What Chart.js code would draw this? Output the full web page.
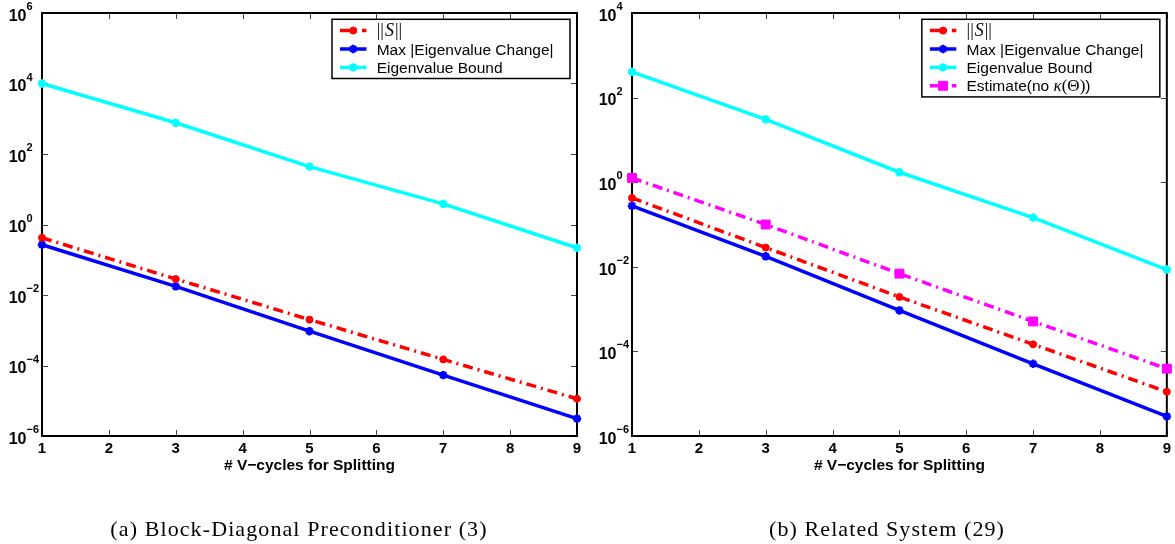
<!DOCTYPE html>
<html><head><meta charset="utf-8">
<script src="https://cdn.jsdelivr.net/npm/chart.js@4/dist/chart.umd.min.js"></script>
<style>
html,body{margin:0;padding:0;background:#fff;width:1175px;height:544px;overflow:hidden;}
#wrap{position:relative;width:1175px;height:544px;}
canvas{position:absolute;top:0;}
.cap{position:absolute;font-family:'Liberation Serif',serif;font-size:22px;line-height:24px;letter-spacing:1.1px;white-space:nowrap;color:#000;transform:translateX(-50%);top:517px;}
</style></head>
<body><div id="wrap">
<canvas id="cA" width="590" height="544" style="left:0"></canvas>
<canvas id="cB" width="585" height="544" style="left:590px"></canvas>
<div class="cap" style="left:299px">(a) Block-Diagonal Preconditioner (3)</div>
<div class="cap" style="left:887px">(b) Related System (29)</div>
</div>
<script>
// ---- data ----
const vCycles = [1, 3, 5, 7, 9];
const xTicks = [1, 2, 3, 4, 5, 6, 7, 8, 9];
const yTickExpA = [-6, -4, -2, 0, 2, 4, 6];
const yTickExpB = [-6, -4, -2, 0, 2, 4];
const xTitle = '# V\u2212cycles for Splitting';

// (a) Block-Diagonal Preconditioner
const normS_A   = [0.42, 0.0284, 2.0e-3, 1.49e-4, 1.14e-5];
const maxEig_A  = [0.267, 0.0176, 9.4e-4, 5.35e-5, 3.1e-6];
const bound_A   = [1.0e4, 768, 43.7, 3.85, 0.219];
// (b) Related System
const normS_B   = [0.425, 0.0285, 1.94e-3, 1.47e-4, 1.11e-5];
const maxEig_B  = [0.275, 0.0177, 9.3e-4, 5.1e-5, 2.9e-6];
const bound_B   = [407, 30.5, 1.72, 0.146, 8.6e-3];
const estim_B   = [1.26, 0.10, 6.9e-3, 5.1e-4, 3.9e-5];

// ---- styles ----
const SANS = '"Liberation Sans", Arial, Helvetica, sans-serif';
const SERIF = '"Liberation Serif", "Times New Roman", serif';
const DASHDOT = [10, 5, 2, 5];
const STY = {
  S:     {color:'#ff0000', dash:DASHDOT, point:'circle', r:3.5, pw:1},
  Max:   {color:'#0000ff', dash:[], point:'star', r:4.2, pw:2.5},
  Bound: {color:'#00ffff', dash:[], point:'star', r:4.2, pw:2.5},
  Est:   {color:'#ff00ff', dash:DASHDOT, point:'rect', r:6.3, pw:1}
};
const LEG = {
  S:     [{t:'||', f:'18px '+SERIF}, {t:'S', f:'italic 18px '+SERIF}, {t:'||', f:'18px '+SERIF}],
  Max:   [{t:'Max |Eigenvalue Change|', f:'15.5px '+SANS}],
  Bound: [{t:'Eigenvalue Bound', f:'15.5px '+SANS}],
  Est:   [{t:'Estimate(no ', f:'15.5px '+SANS}, {t:'\u03ba', f:'italic 17px '+SERIF}, {t:'(\u0398)', f:'17px '+SERIF}, {t:')', f:'15.5px '+SANS}]
};

function ds(key, arr){
  const s = STY[key];
  return {
    label: key,
    data: vCycles.map((x, i) => ({x: x, y: arr[i]})),
    borderColor: s.color, backgroundColor: s.color,
    pointBackgroundColor: s.color, pointBorderColor: s.color,
    borderWidth: 3.5, borderDash: s.dash, borderCapStyle: 'butt',
    pointStyle: s.point, pointRadius: s.r, pointBorderWidth: s.pw,
    pointHoverRadius: s.r, tension: 0, fill: false, clip: false
  };
}

function drawMarker(ctx, s, x, y){
  ctx.save();
  ctx.setLineDash([]);
  ctx.fillStyle = s.color; ctx.strokeStyle = s.color; ctx.lineWidth = s.pw;
  ctx.beginPath();
  if (s.point === 'circle') {
    ctx.arc(x, y, s.r, 0, Math.PI*2); ctx.fill(); ctx.stroke();
  } else if (s.point === 'rect') {
    const h = s.r * Math.SQRT1_2; ctx.rect(x-h, y-h, 2*h, 2*h); ctx.fill(); ctx.stroke();
  } else {
    for (let k = 0; k < 4; k++) {
      const a = k * Math.PI/4;
      ctx.moveTo(x - Math.cos(a)*s.r, y - Math.sin(a)*s.r);
      ctx.lineTo(x + Math.cos(a)*s.r, y + Math.sin(a)*s.r);
    }
    ctx.stroke();
  }
  ctx.restore();
}

function framePlugin(cfg){
  return {
    id: 'frame',
    beforeDatasetsDraw(chart){
      const ctx = chart.ctx, a = chart.chartArea, x = chart.scales.x, y = chart.scales.y;
      ctx.save();
      ctx.strokeStyle = '#444'; ctx.lineWidth = 1;
      xTicks.forEach(v => {
        const px = Math.round(x.getPixelForValue(v)) + 0.5;
        ctx.beginPath();
        ctx.moveTo(px, a.bottom); ctx.lineTo(px, a.bottom - 6);
        ctx.moveTo(px, a.top); ctx.lineTo(px, a.top + 6);
        ctx.stroke();
      });
      cfg.yExp.forEach(e => {
        const py = Math.round(y.getPixelForValue(Math.pow(10, e))) + 0.5;
        ctx.beginPath();
        ctx.moveTo(a.left, py); ctx.lineTo(a.left + 6, py);
        ctx.moveTo(a.right, py); ctx.lineTo(a.right - 6, py);
        ctx.stroke();
      });
      ctx.strokeStyle = '#000'; ctx.lineWidth = 2;
      ctx.strokeRect(a.left, a.top, a.right - a.left, a.bottom - a.top);
      ctx.restore();
    },
    afterDraw(chart){
      const ctx = chart.ctx, a = chart.chartArea, y = chart.scales.y;
      ctx.save();
      ctx.fillStyle = '#000';
      // y tick labels 10^k
      cfg.yExp.forEach(e => {
        const py = y.getPixelForValue(Math.pow(10, e));
        const xr = a.left - 15.5;
        ctx.font = 'bold 16px ' + SANS;
        ctx.textAlign = 'right'; ctx.textBaseline = 'alphabetic';
        ctx.fillText('10', xr, py + 7.7);
        ctx.font = 'bold 11px ' + SANS;
        ctx.textAlign = 'left';
        ctx.fillText(e < 0 ? '\u2212' + (-e) : String(e), xr, py - 3);
      });
      // x axis title
      ctx.font = 'bold 15.5px ' + SANS;
      ctx.textAlign = 'center'; ctx.textBaseline = 'alphabetic';
      ctx.fillText(xTitle, (a.left + a.right)/2, 470);
      // legend
      const n = cfg.legend.length;
      const w = 238, h = n * 18.4 + 4;
      const bx = a.right - 7 - w, by = a.top + 6.3;
      ctx.fillStyle = '#fff';
      ctx.fillRect(bx, by, w, h);
      ctx.strokeStyle = '#000'; ctx.lineWidth = 1.5;
      ctx.strokeRect(bx, by, w, h);
      cfg.legend.forEach((key, i) => {
        const s = STY[key];
        const cy = by + 11.3 + i * 18.4;
        ctx.save();
        ctx.strokeStyle = s.color; ctx.lineWidth = 3.5; ctx.lineCap = 'butt';
        ctx.setLineDash(s.dash);
        ctx.beginPath(); ctx.moveTo(bx + 8, cy); ctx.lineTo(bx + 34.5, cy); ctx.stroke();
        ctx.restore();
        drawMarker(ctx, s, bx + 21.2, cy);
        let tx = bx + 44.7;
        ctx.fillStyle = '#000'; ctx.textAlign = 'left'; ctx.textBaseline = 'alphabetic';
        LEG[key].forEach(p => {
          ctx.font = p.f;
          ctx.fillText(p.t, tx, cy + 5.5);
          tx += ctx.measureText(p.t).width + (key === 'S' ? 1 : 0);
        });
      });
      ctx.restore();
    }
  };
}

function makeChart(id, datasets, yExp, legend, padRight){
  new Chart(document.getElementById(id), {
    type: 'line',
    data: {datasets: datasets},
    options: {
      responsive: false, animation: false, devicePixelRatio: 1, events: [],
      layout: {padding: {left: 0, top: 13, right: padRight, bottom: 0}},
      plugins: {legend: {display: false}, tooltip: {enabled: false}, title: {display: false}},
      scales: {
        x: {
          type: 'linear', min: 1, max: 9,
          grid: {display: false, drawTicks: false}, border: {display: false},
          ticks: {stepSize: 1, padding: 4, color: '#000', font: {family: SANS, size: 15, weight: 'bold'}},
          afterBuildTicks: s => { s.ticks = xTicks.map(v => ({value: v})); },
          afterFit: s => { s.height = 108; }
        },
        y: {
          type: 'logarithmic',
          min: Math.pow(10, yExp[0]), max: Math.pow(10, yExp[yExp.length - 1]),
          grid: {display: false, drawTicks: false}, border: {display: false},
          ticks: {display: false},
          afterBuildTicks: s => { s.ticks = yExp.map(e => ({value: Math.pow(10, e), major: true})); },
          afterFit: s => { s.width = 42; }
        }
      }
    },
    plugins: [framePlugin({yExp: yExp, legend: legend})]
  });
}

makeChart('cA', [ds('S', normS_A), ds('Max', maxEig_A), ds('Bound', bound_A)], yTickExpA, ['S', 'Max', 'Bound'], 13);
makeChart('cB', [ds('S', normS_B), ds('Max', maxEig_B), ds('Bound', bound_B), ds('Est', estim_B)], yTickExpB, ['S', 'Max', 'Bound', 'Est'], 8);
</script>
</body></html>
